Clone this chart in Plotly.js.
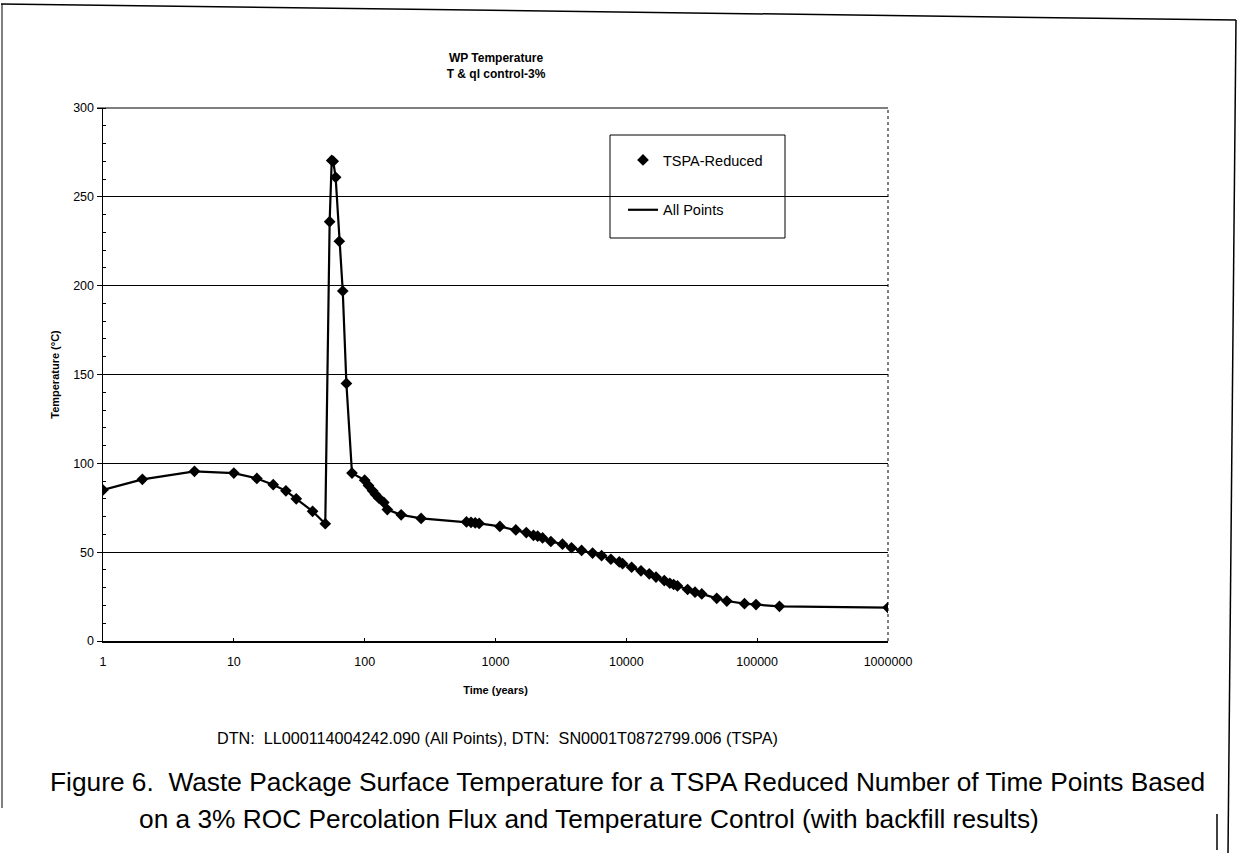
<!DOCTYPE html>
<html>
<head>
<meta charset="utf-8">
<script src="https://cdn.plot.ly/plotly-3.0.1.min.js"></script>
<style>
  html, body { margin: 0; padding: 0; background: #ffffff; }
  #chart { width: 1239px; height: 853px; }
</style>
</head>
<body>
<div id="chart"></div>
<script>
// ---- data ----
const timeYears = [1, 2, 5, 10, 15, 20, 25, 30, 40, 50,
  54, 56, 57.5, 60, 64, 68, 72.5,
  80, 100, 107, 115, 121, 128, 140, 149, 190, 270,
  600, 650, 700, 750, 1080, 1430, 1720, 1950, 2100, 2290, 2650, 3250, 3810, 4550,
  5520, 6470, 7620, 8830, 9360, 10970, 12940, 14970, 16860, 19500, 21500, 23000, 24600,
  29400, 33500, 37700, 49100, 58600, 80000, 98000, 148000, 1000000];
const tempC = [85, 91, 95.5, 94.5, 91.5, 88, 84.5, 80, 73, 66,
  236, 270.5, 270, 261, 225, 197, 145,
  94.5, 90.5, 87.5, 84.5, 82.5, 80.5, 78, 74, 71, 69,
  67, 66.8, 66.5, 66.2, 64.5, 62.5, 61, 59.5, 59, 58, 56, 54.5, 52.5, 51,
  49.5, 48, 46, 44.5, 43.5, 41.5, 39.5, 37.8, 36, 34, 32.5, 31.8, 31,
  29, 27.5, 26.5, 24, 22.5, 21, 20.5, 19.5, 18.8];

const xTickVals = [1, 10, 100, 1000, 10000, 100000, 1000000];
const xTickText = ["1", "10", "100", "1000", "10000", "100000", "1000000"];
const yTickVals = [0, 50, 100, 150, 200, 250, 300];

const seriesNames = ["TSPA-Reduced", "All Points"];
const chartTitle = "WP Temperature<br>T & ql control-3%";
const xTitle = "Time (years)";
const yTitle = "Temperature (°C)";
const dtnText = "DTN:  LL000114004242.090 (All Points), DTN:  SN0001T0872799.006 (TSPA)";
const captionLine1 = "Figure 6.  Waste Package Surface Temperature for a TSPA Reduced Number of Time Points Based";
const captionLine2 = "on a 3% ROC Percolation Flux and Temperature Control (with backfill results)";

// ---- layout helpers (pixel -> paper) ----
const M = {l: 103, r: 351, t: 108, b: 212};
const W = 1239, H = 853;
const PW = W - M.l - M.r, PH = H - M.t - M.b;
const px = v => (v - M.l) / PW;
const py = v => (H - M.b - v) / PH;

const FONT = "Liberation Sans, Arial, sans-serif";

const traces = [
  {
    x: timeYears, y: tempC, type: "scatter", mode: "lines",
    name: seriesNames[1], legendgroup: "b", legendrank: 2,
    line: {color: "#000000", width: 2.2}
  },
  {
    x: timeYears, y: tempC, type: "scatter", mode: "markers",
    name: seriesNames[0], legendgroup: "a", legendrank: 1,
    marker: {symbol: "diamond", size: 9, color: "#000000"}
  }
];

const layout = {
  width: W, height: H,
  margin: M,
  paper_bgcolor: "#ffffff", plot_bgcolor: "#ffffff",
  font: {family: FONT, color: "#000000", size: 12},
  title: {
    text: chartTitle, x: px(496), xref: "paper", xanchor: "center",
    y: 1 - 62 / H, yanchor: "middle",
    font: {family: FONT, size: 12, color: "#000000", weight: "bold"}
  },
  xaxis: {
    type: "log", range: [0, 6],
    tickvals: xTickVals, ticktext: xTickText,
    tickfont: {family: FONT, size: 12.5},
    ticks: "inside", ticklen: 3, tickcolor: "#000",
    ticklabelstandoff: 8,
    showgrid: false, zeroline: false,
    showline: true, linecolor: "#000", linewidth: 1.5,
    title: {text: xTitle, font: {family: FONT, size: 11, weight: "bold"}, standoff: 19}
  },
  yaxis: {
    range: [0, 300], tickvals: yTickVals,
    tickfont: {family: FONT, size: 12.5},
    ticks: "outside", ticklen: 5, tickcolor: "#000",
    minor: {dtick: 10, ticks: "inside", ticklen: 3, tickcolor: "#000", showgrid: false},
    showgrid: true, gridcolor: "#000000", gridwidth: 1,
    zeroline: false,
    showline: true, linecolor: "#000", linewidth: 1.5,
    title: {text: yTitle, font: {family: FONT, size: 11, weight: "bold"}, standoff: 11}
  },
  showlegend: true,
  legend: {
    x: px(623), xanchor: "left", y: py(144), yanchor: "top",
    bgcolor: "rgba(0,0,0,0)", borderwidth: 0,
    font: {family: FONT, size: 14.5, color: "#000"},
    tracegroupgap: 28, traceorder: "grouped", itemwidth: 30
  },
  shapes: [
    // top plot edge (300 gridline)
    {type: "line", xref: "paper", yref: "paper", x0: px(97), x1: 1, y0: 1, y1: 1,
     line: {color: "#000", width: 1.2}},
    // right plot edge (dotted)
    {type: "line", xref: "paper", yref: "paper", x0: 1, x1: 1, y0: 0, y1: 1,
     line: {color: "#000", width: 1, dash: "dot"}},
    // legend box
    {type: "rect", xref: "paper", yref: "paper", x0: px(610), x1: px(785), y0: py(135), y1: py(238),
     line: {color: "#000", width: 1}, fillcolor: "rgba(0,0,0,0)", layer: "above"},
    // page frame (scanned page border)
    {type: "line", xref: "paper", yref: "paper", x0: px(1), y0: py(4), x1: px(1236), y1: py(20),
     line: {color: "#000", width: 1.5}},
    {type: "line", xref: "paper", yref: "paper", x0: px(2), y0: py(4), x1: px(2), y1: py(808),
     line: {color: "#000", width: 1}},
    {type: "line", xref: "paper", yref: "paper", x0: px(1236), y0: py(20), x1: px(1228), y1: py(853),
     line: {color: "#000", width: 1.5}},
    {type: "line", xref: "paper", yref: "paper", x0: px(1217), y0: py(814), x1: px(1217), y1: py(850),
     line: {color: "#000", width: 1.5}}
  ],
  annotations: [
    {text: dtnText, xref: "paper", yref: "paper", x: px(497), y: py(738),
     xanchor: "center", yanchor: "middle", showarrow: false,
     font: {family: FONT, size: 16.2, color: "#000"}},
    {text: captionLine1, xref: "paper", yref: "paper", x: px(48), y: py(782),
     xanchor: "left", yanchor: "middle", showarrow: false,
     font: {family: FONT, size: 26.3, color: "#000"}},
    {text: captionLine2, xref: "paper", yref: "paper", x: px(137), y: py(819),
     xanchor: "left", yanchor: "middle", showarrow: false,
     font: {family: FONT, size: 26.3, color: "#000"}}
  ]
};

Plotly.newPlot("chart", traces, layout, {displayModeBar: false, staticPlot: true});
</script>
</body>
</html>
